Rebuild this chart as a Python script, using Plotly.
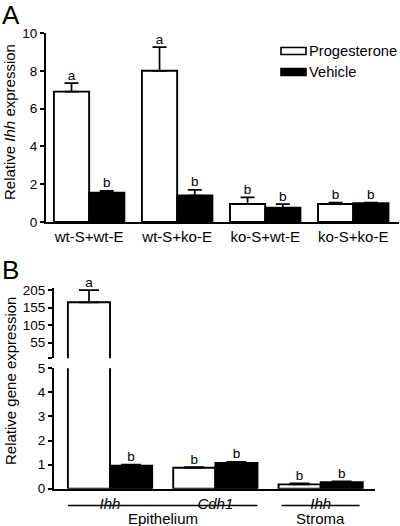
import numpy as np
import plotly.graph_objects as go

# ---------------- data ----------------
groups_a = ["wt-S+wt-E", "wt-S+ko-E", "ko-S+wt-E", "ko-S+ko-E"]
prog_a = [6.9, 8.0, 0.95, 0.95]
prog_a_err = [0.45, 1.25, 0.35, 0.08]
veh_a = [1.55, 1.4, 0.75, 1.0]
veh_a_err = [0.1, 0.3, 0.2, 0.03]
letters_prog_a = ["a", "a", "b", "b"]
letters_veh_a = ["b", "b", "b", "b"]

genes_b = ["<i>Ihh</i>", "<i>Cdh1</i>", "<i>Ihh</i>"]
tissue_b = ["Epithelium", "Epithelium", "Stroma"]
prog_b = [170.0, 0.87, 0.18]
prog_b_err = [35.0, 0.03, 0.04]
veh_b = [0.95, 1.07, 0.27]
veh_b_err = [0.05, 0.05, 0.04]
letters_prog_b = ["a", "b", "b"]
letters_veh_b = ["b", "b", "b"]

series_names = ["Progesterone", "Vehicle"]
series_fill = ["white", "black"]

upper_ticks = [55, 105, 155, 205]

# ---------------- helpers ----------------
W, H = 400, 526
FONT = "Liberation Sans, Arial, sans-serif"
TICK_FS = 13.5
CAT_FS = 15
LETTER_FS = 13.5
def px(x):
    return x / W
def py(y):
    return 1 - y / H

LW = 1.9
EW = 1.7
fig = go.Figure()

# ---------- panel A ----------
ia = np.arange(len(groups_a))
off = 0.2
bw = 0.4
fig.add_trace(go.Bar(
    x=ia - off, y=prog_a, width=bw, name=series_names[0],
    marker=dict(color=series_fill[0], line=dict(color="black", width=LW)),
    error_y=dict(type="data", array=prog_a_err, arrayminus=[0] * len(ia), symmetric=False,
                 color="black", thickness=EW, width=7),
    xaxis="x", yaxis="y", showlegend=False))
fig.add_trace(go.Bar(
    x=ia + off, y=veh_a, width=bw, name=series_names[1],
    marker=dict(color=series_fill[1], line=dict(color="black", width=LW)),
    error_y=dict(type="data", array=veh_a_err, arrayminus=[0] * len(ia), symmetric=False,
                 color="black", thickness=EW, width=7),
    xaxis="x", yaxis="y", showlegend=False))
fig.add_trace(go.Scatter(
    x=np.concatenate([ia - off, ia + off]),
    y=np.concatenate([np.add(prog_a, prog_a_err), np.add(veh_a, veh_a_err)]),
    text=letters_prog_a + letters_veh_a, mode="text", textposition="top center",
    textfont=dict(size=LETTER_FS, color="black", family=FONT),
    xaxis="x", yaxis="y", showlegend=False, hoverinfo="skip", cliponaxis=False))

# ---------- panel B ----------
ib = np.arange(len(genes_b))
prog_b_arr = np.array(prog_b)
veh_b_arr = np.array(veh_b)
low_max = 5
up_min = 10
# lower axis (0-5)
fig.add_trace(go.Bar(
    x=ib - off, y=prog_b, width=bw, name=series_names[0],
    marker=dict(color=series_fill[0], line=dict(color="black", width=LW)),
    error_y=dict(type="data", array=np.where(prog_b_arr > low_max, 0, prog_b_err),
                 arrayminus=[0] * len(ib), symmetric=False,
                 color="black", thickness=EW, width=10),
    xaxis="x2", yaxis="y3", showlegend=False))
fig.add_trace(go.Bar(
    x=ib + off, y=veh_b, width=bw, name=series_names[1],
    marker=dict(color=series_fill[1], line=dict(color="black", width=LW)),
    error_y=dict(type="data", array=veh_b_err, arrayminus=[0] * len(ib), symmetric=False,
                 color="black", thickness=EW, width=10),
    xaxis="x2", yaxis="y3", showlegend=False))
# upper axis (broken part)
big = prog_b_arr > low_max
fig.add_trace(go.Bar(
    x=(ib - off)[big], y=prog_b_arr[big], width=bw, name=series_names[0],
    marker=dict(color=series_fill[0], line=dict(color="black", width=LW)),
    error_y=dict(type="data", array=np.array(prog_b_err)[big], arrayminus=[0] * int(big.sum()),
                 symmetric=False, color="black", thickness=EW, width=10),
    xaxis="x2", yaxis="y2", showlegend=False))
# letters
fig.add_trace(go.Scatter(
    x=(ib - off)[big], y=(prog_b_arr + np.array(prog_b_err))[big],
    text=list(np.array(letters_prog_b)[big]), mode="text", textposition="top center",
    textfont=dict(size=LETTER_FS, color="black", family=FONT),
    xaxis="x2", yaxis="y2", showlegend=False, hoverinfo="skip", cliponaxis=False))
fig.add_trace(go.Scatter(
    x=np.concatenate([(ib - off)[~big], ib + off]),
    y=np.concatenate([(prog_b_arr + np.array(prog_b_err))[~big], veh_b_arr + np.array(veh_b_err)]),
    text=list(np.array(letters_prog_b)[~big]) + letters_veh_b, mode="text",
    textposition="top center",
    textfont=dict(size=LETTER_FS, color="black", family=FONT),
    xaxis="x2", yaxis="y3", showlegend=False, hoverinfo="skip", cliponaxis=False))

axis_common = dict(showline=True, linecolor="black", linewidth=1.9, showgrid=False,
                   zeroline=False, tickfont=dict(size=TICK_FS, color="black", family=FONT),
                   ticks="outside", ticklen=4, tickwidth=1.6, tickcolor="black",
                   automargin=False)
xaxis_common = {**axis_common, "ticks": "",
                "tickfont": dict(size=CAT_FS, color="black", family=FONT)}

fig.update_layout(
    template="none",
    width=W, height=H, margin=dict(l=0, r=0, t=0, b=0, pad=0, autoexpand=False),
    paper_bgcolor="white", plot_bgcolor="white",
    barmode="overlay", showlegend=False,
    font=dict(family=FONT, size=CAT_FS, color="black"),
    xaxis=dict(domain=[px(46), px(399)], range=[-0.49, 3.52], anchor="y",
               tickvals=ia, ticktext=groups_a, **xaxis_common),
    yaxis=dict(domain=[py(222), py(33)], range=[0, 10], anchor="x",
               tickvals=[0, 2, 4, 6, 8, 10], **axis_common),
    xaxis2=dict(domain=[px(54), px(375)], range=[-0.532, 2.516], anchor="y3",
                tickvals=ib, ticktext=genes_b, **xaxis_common),
    yaxis3=dict(domain=[py(488.7), py(368.3)], range=[0, low_max], anchor="x2",
                tickvals=[0, 1, 2, 3, 4, 5], **axis_common),
    yaxis2=dict(domain=[py(358.3), py(288.3)], range=[up_min, 210], anchor="x2",
                tickvals=[up_min] + upper_ticks, ticktext=[""] + [str(t) for t in upper_ticks],
                **axis_common),
)

annotations = [
    dict(text="A", x=px(0), y=py(15), xref="paper", yref="paper", xanchor="left",
         yanchor="middle", showarrow=False, font=dict(size=26, family=FONT)),
    dict(text="B", x=px(0), y=py(270), xref="paper", yref="paper", xanchor="left",
         yanchor="middle", showarrow=False, font=dict(size=26, family=FONT)),
    dict(text="Relative <i>Ihh</i> expression", x=px(10), y=py(122), xref="paper", yref="paper",
         xanchor="center", yanchor="middle",
         textangle=-90, showarrow=False, font=dict(size=15, family=FONT)),
    dict(text="Relative gene expression", x=px(10), y=py(381), xref="paper", yref="paper",
         xanchor="center", yanchor="middle",
         textangle=-90, showarrow=False, font=dict(size=15, family=FONT)),
]
shapes = []
# custom legend (wide swatches as in the reference)
for k, (nm, fc) in enumerate(zip(series_names, series_fill)):
    yc = 51 + 21 * k
    shapes.append(dict(type="rect", xref="paper", yref="paper",
                       x0=px(281), x1=px(306), y0=py(yc - 3.5), y1=py(yc + 3.5),
                       fillcolor=fc, line=dict(color="black", width=1.6)))
    annotations.append(dict(text=nm, x=px(307), y=py(yc), xref="paper", yref="paper",
                            xanchor="left", yanchor="middle", showarrow=False,
                            font=dict(size=14.7, family=FONT)))
# tissue brackets under panel B
for t in dict.fromkeys(tissue_b):
    idx = [i for i, tt in enumerate(tissue_b) if tt == t]
    x0, x1 = min(idx) - 0.4, max(idx) + 0.4
    if len(idx) == 1:
        x0, x1 = x0 + 0.03, x1 - 0.03
    shapes.append(dict(type="line", xref="x2", yref="paper", x0=x0, x1=x1,
                       y0=py(505.5), y1=py(505.5), line=dict(color="black", width=1.4)))
    annotations.append(dict(text=t, x=(x0 + x1) / 2, y=py(518), xref="x2", yref="paper",
                            showarrow=False, font=dict(size=CAT_FS, family=FONT),
                            xanchor="center", yanchor="middle"))
fig.update_layout(annotations=annotations, shapes=shapes)

fig.write_html("out.html", config={"displayModeBar": False},
               post_script="document.body.style.margin='0';document.body.style.overflow='hidden';")
